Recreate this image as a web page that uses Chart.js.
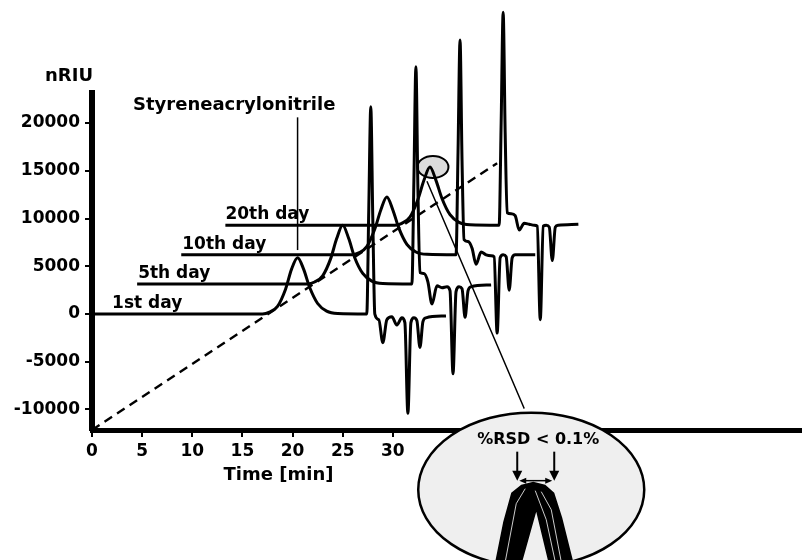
<!DOCTYPE html>
<html>
<head>
	<title>Styreneacrylonitrile - 20 day repeatability</title>
	<script src="https://cdn.jsdelivr.net/npm/chart.js@4.4.0/dist/chart.umd.min.js"></script>
	<meta charset="utf-8"/>
	<style>
		body { margin: 0; background: #fff; }
		#chart-container { width: 802px; height: 560px; }
	</style>
</head>
<body>
    <div id="chart-container">
        <canvas id="myChart" width="802" height="560"></canvas>
    </div>

    <script>
        // axis ticks
        var xTicks = [0, 5, 10, 15, 20, 25, 30];
        var yTicks = [-10000, -5000, 0, 5000, 10000, 15000, 20000];

        // the four runs, time [min] / signal [nRIU]
        var dayLabels = ['1st day', '5th day', '10th day', '20th day'];
        var labelTimes = [2.0, 4.6, 9.0, 13.3];

        var time1 = [0, 17.0, 17.7, 18.5, 19.3, 19.9, 20.5, 21.1, 21.7, 22.5, 23.4, 24.5, 27.4, 27.6, 27.8, 28.0, 28.2, 28.6, 29.0, 29.4, 29.9, 30.4, 30.9, 31.2, 31.5, 31.8, 32.1, 32.4, 32.7, 33.0, 33.3, 35.3];
        var signal1 = [0, 0, 200, 800, 2600, 4700, 5900, 4700, 2800, 1100, 300, 50, 0, 11000, 21700, 10000, 0, -600, -3000, -600, -300, -1150, -400, -900, -10400, -900, -400, -700, -3500, -800, -400, -200];

        var time5 = [4.5, 21.5, 22.2, 23.0, 23.8, 24.4, 25.0, 25.6, 26.2, 27.0, 27.9, 29.0, 31.9, 32.1, 32.3, 32.5, 32.7, 33.1, 33.5, 33.9, 34.4, 34.9, 35.4, 35.7, 36.0, 36.3, 36.6, 36.9, 37.2, 37.5, 37.8, 39.8];
        var signal5 = [3150, 3150, 3350, 4000, 5800, 7900, 9300, 7900, 5900, 4250, 3450, 3200, 3150, 14000, 25900, 13000, 4350, 4250, 3350, 1050, 2950, 2750, 2850, 2450, -6250, 2350, 2850, 2650, -350, 2450, 2850, 3050];

        var time10 = [8.9, 25.9, 26.6, 27.4, 28.2, 28.8, 29.4, 30.0, 30.6, 31.4, 32.3, 33.4, 36.3, 36.5, 36.7, 36.9, 37.1, 37.5, 37.9, 38.3, 38.8, 39.3, 39.8, 40.1, 40.4, 40.7, 41.0, 41.3, 41.6, 41.9, 42.2, 44.2];
        var signal10 = [6200, 6200, 6400, 7050, 8900, 10900, 12250, 10900, 9000, 7300, 6500, 6250, 6200, 17000, 28700, 16000, 7800, 7600, 6900, 5200, 6500, 6200, 6100, 6000, -2000, 5900, 6200, 6000, 2500, 5900, 6200, 6200];

        var time20 = [13.3, 30.2, 30.9, 31.7, 32.5, 33.1, 33.7, 34.3, 34.9, 35.7, 36.6, 37.7, 40.6, 40.8, 41.0, 41.2, 41.4, 41.8, 42.2, 42.6, 43.1, 43.6, 44.1, 44.4, 44.7, 45.0, 45.3, 45.6, 45.9, 46.2, 46.5, 48.5];
        var signal20 = [9300, 9300, 9500, 10150, 12000, 14000, 15400, 14000, 12100, 10400, 9600, 9350, 9300, 20000, 31600, 19000, 10600, 10500, 10300, 8800, 9500, 9400, 9300, 9200, -600, 9200, 9300, 9100, 5600, 9100, 9300, 9400];

        // dashed guide through the peaks
        var dashTime = [0, 40.4];
        var dashSignal = [-12150, 15800];

        // pointer from the peak name down to the 1st day peak
        var pointerTime = [20.5, 20.5];
        var pointerSignal = [20600, 6700];

        // connector from the circled peak to the zoom bubble
        var zoomLineTime = [33.4, 43.1];
        var zoomLineSignal = [13900, -9900];

        var peakName = 'Styreneacrylonitrile';
        var rsdText = '%RSD < 0.1%';

        function points(xs, ys) {
            var out = [];
            for (var i = 0; i < xs.length; i++) {
                out.push({x: xs[i], y: ys[i]});
            }
            return out;
        }

        function trace(xs, ys) {
            return {
                data: points(xs, ys),
                borderColor: '#000',
                borderWidth: 3,
                pointRadius: 0,
                cubicInterpolationMode: 'monotone',
                clip: false
            };
        }

        var annotations = {
            id: 'annotations',
            beforeDatasetsDraw: function (chart) {
                var ctx = chart.ctx;
                var xs = chart.scales.x, ys = chart.scales.y;
                // small circle round the 20th day peak top
                var cx = xs.getPixelForValue(34.0), cy = ys.getPixelForValue(15400);
                ctx.save();
                ctx.beginPath();
                ctx.ellipse(cx, cy, 15.5, 11, 0, 0, 2 * Math.PI);
                ctx.fillStyle = '#dcdcdc';
                ctx.fill();
                ctx.lineWidth = 2;
                ctx.strokeStyle = '#000';
                ctx.stroke();
                ctx.restore();
            },
            afterDraw: function (chart) {
                var ctx = chart.ctx;
                var xs = chart.scales.x, ys = chart.scales.y;
                var area = chart.chartArea;
                ctx.save();
                ctx.fillStyle = '#000';

                ctx.font = 'bold 18px "DejaVu Sans"';
                ctx.textAlign = 'right';
                ctx.textBaseline = 'middle';
                ctx.fillText('nRIU', area.left + 1, area.top - 17);

                ctx.textAlign = 'left';
                ctx.fillText(peakName, 133, ys.getPixelForValue(21900));

                ctx.textAlign = 'center';
                ctx.font = 'bold 18px "DejaVu Sans"';
                ctx.fillText('Time [min]', xs.getPixelForValue(18.6), area.bottom + 45);

                var bases = [signal1[0], signal5[0], signal10[0], signal20[0]];
                ctx.font = 'bold 17px "DejaVu Sans"';
                ctx.textAlign = 'left';
                ctx.textBaseline = 'alphabetic';
                for (var i = 0; i < dayLabels.length; i++) {
                    ctx.fillText(dayLabels[i], xs.getPixelForValue(labelTimes[i]), ys.getPixelForValue(bases[i]) - 6);
                }

                // zoom bubble
                var bx = xs.getPixelForValue(43.8), by = ys.getPixelForValue(-18400);
                ctx.beginPath();
                ctx.ellipse(bx, by, 113, 77, 0, 0, 2 * Math.PI);
                ctx.fillStyle = '#efefef';
                ctx.fill();
                ctx.save();
                ctx.clip();
                var band = [[-36, 72], [-28, 32], [-20, 3], [-10, -5], [2, -8], [14, -5], [23, 3], [31, 28], [42, 72], [17, 72], [5, 22], [-9, 72]];
                ctx.beginPath();
                for (var j = 0; j < band.length; j++) {
                    if (j === 0) ctx.moveTo(bx + band[j][0], by + band[j][1]);
                    else ctx.lineTo(bx + band[j][0], by + band[j][1]);
                }
                ctx.closePath();
                ctx.fillStyle = '#000';
                ctx.fill();
                ctx.strokeStyle = '#fff';
                ctx.lineWidth = 0.8;
                ctx.beginPath();
                ctx.moveTo(bx - 26, by + 72); ctx.lineTo(bx - 15, by + 14); ctx.lineTo(bx - 6, by - 1);
                ctx.moveTo(bx + 10, by + 2); ctx.lineTo(bx + 20, by + 20); ctx.lineTo(bx + 30, by + 72);
                ctx.moveTo(bx + 4, by + 1); ctx.lineTo(bx + 15, by + 30); ctx.lineTo(bx + 24, by + 72);
                ctx.stroke();
                ctx.restore();
                ctx.beginPath();
                ctx.ellipse(bx, by, 113, 77, 0, 0, 2 * Math.PI);
                ctx.lineWidth = 2.5;
                ctx.strokeStyle = '#000';
                ctx.stroke();

                ctx.fillStyle = '#000';
                ctx.font = 'bold 16px "DejaVu Sans"';
                ctx.textAlign = 'center';
                ctx.textBaseline = 'middle';
                ctx.fillText(rsdText, bx + 7, by - 50);

                // arrows
                ctx.lineWidth = 2;
                [-14, 23].forEach(function (dx) {
                    ctx.beginPath();
                    ctx.moveTo(bx + dx, by - 38);
                    ctx.lineTo(bx + dx, by - 18);
                    ctx.stroke();
                    ctx.beginPath();
                    ctx.moveTo(bx + dx - 5, by - 19);
                    ctx.lineTo(bx + dx + 5, by - 19);
                    ctx.lineTo(bx + dx, by - 9);
                    ctx.closePath();
                    ctx.fill();
                });
                ctx.lineWidth = 1.5;
                ctx.beginPath();
                ctx.moveTo(bx - 9, by - 9);
                ctx.lineTo(bx + 18, by - 9);
                ctx.stroke();
                ctx.beginPath();
                ctx.moveTo(bx - 12, by - 9); ctx.lineTo(bx - 5, by - 12); ctx.lineTo(bx - 5, by - 6); ctx.closePath();
                ctx.moveTo(bx + 21, by - 9); ctx.lineTo(bx + 14, by - 12); ctx.lineTo(bx + 14, by - 6); ctx.closePath();
                ctx.fill();
                ctx.restore();
            }
        };

        Chart.defaults.font.family = '"DejaVu Sans", sans-serif';
        Chart.defaults.color = '#000';

        var guide = trace(dashTime, dashSignal);
        guide.borderDash = [9, 6];
        guide.borderWidth = 2.4;
        guide.cubicInterpolationMode = 'default';

        var pointer = trace(pointerTime, pointerSignal);
        pointer.borderWidth = 1.5;

        var zoomLine = trace(zoomLineTime, zoomLineSignal);
        zoomLine.borderWidth = 1.5;

        var chartTarget = document.getElementById('myChart');
        var lineChart = new Chart(chartTarget, {
            type: 'line',
            data: {
                datasets: [
                    trace(time1, signal1),
                    trace(time5, signal5),
                    trace(time10, signal10),
                    trace(time20, signal20),
                    guide,
                    pointer,
                    zoomLine
                ]
            },
            options: {
                responsive: false,
                animation: false,
                layout: { padding: { top: 93, right: 0, left: 0, bottom: 0 } },
                plugins: { legend: { display: false }, tooltip: { enabled: false } },
                scales: {
                    x: {
                        type: 'linear',
                        min: 0,
                        max: 70.8,
                        afterBuildTicks: function (scale) {
                            scale.ticks = xTicks.map(function (v) { return {value: v}; });
                        },
                        afterFit: function (scale) { scale.height = 130; },
                        grid: { display: true, drawOnChartArea: false, drawTicks: true, tickLength: 7, color: '#000', lineWidth: 2 },
                        border: { display: true, width: 5, color: '#000' },
                        ticks: {
                            font: { size: 17, weight: 'bold' },
                            padding: 4,
                            maxRotation: 0,
                            callback: function (value) { return String(value); }
                        }
                    },
                    y: {
                        type: 'linear',
                        min: -12150,
                        max: 23150,
                        afterBuildTicks: function (scale) {
                            scale.ticks = yTicks.map(function (v) { return {value: v}; });
                        },
                        afterFit: function (scale) { scale.width = 92; },
                        grid: { display: true, drawOnChartArea: false, drawTicks: true, tickLength: 7, color: '#000', lineWidth: 2 },
                        border: { display: true, width: 6, color: '#000' },
                        ticks: {
                            font: { size: 17, weight: 'bold' },
                            padding: 5,
                            callback: function (value) { return String(value); }
                        }
                    }
                }
            },
            plugins: [annotations]
        });
    </script>

</body>
</html>
